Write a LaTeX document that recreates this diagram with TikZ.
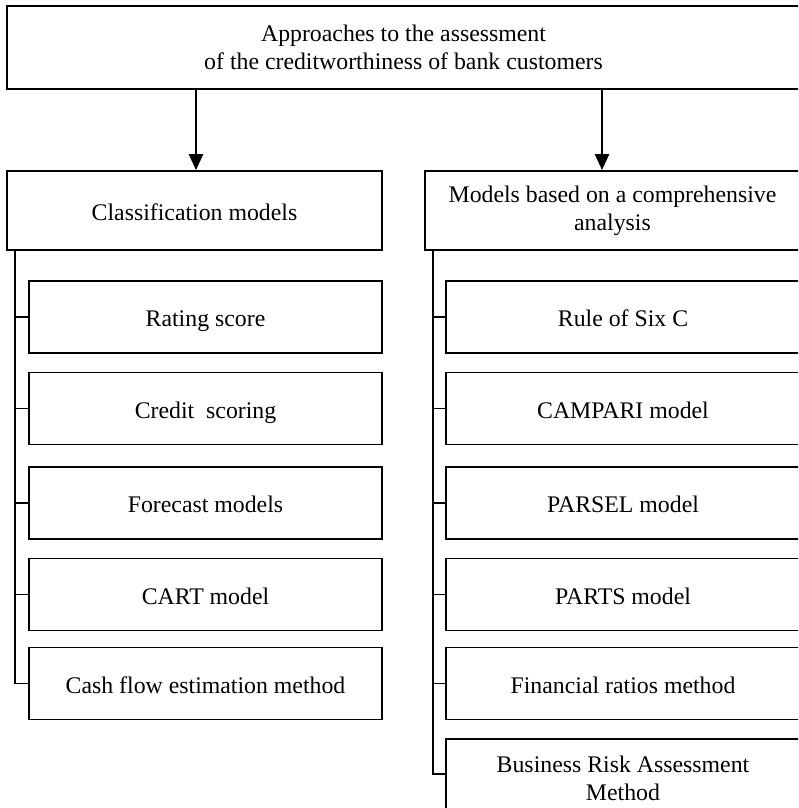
\documentclass[tikz,border=0pt]{standalone}
\usepackage{fontspec}
\setmainfont{Liberation Serif}
\usetikzlibrary{arrows.meta}
\begin{document}
\begin{tikzpicture}[x=0.5pt,y=-0.5pt,
  font=\fontsize{11.9}{14}\selectfont,
  box/.style={draw,line width=0.9pt,rectangle,inner sep=0pt,align=center},
  oneline/.style={text height=9.5pt,text depth=0pt},
  arr/.style={line width=1.3pt,-{Triangle[length=8pt,width=7pt]}},
  link/.style={line width=0.9pt}]
\useasboundingbox (0,0) rectangle (798,808);
\clip (0,0) rectangle (798,808);
% main heading
\node[box,minimum width=396.5pt,minimum height=41.5pt] (top) at (403.5,47.5)
  {Approaches to the assessment\\of the creditworthiness of bank customers};
% two groups
\node[box,oneline,minimum width=187.5pt,minimum height=39.5pt] (lm) at (194.5,210.5)
  {Classification models};
\node[box,minimum width=187.5pt,minimum height=39.5pt] (rm) at (612.5,210.5)
  {\rule{0pt}{0pt}\raisebox{-1pt}{Models based on a comprehensive}\\\raisebox{-1pt}{analysis}};
% left column
\tikzset{lbox/.style={box,oneline,minimum width=176.5pt,minimum height=36pt},
         rbox/.style={box,oneline,minimum width=177pt,minimum height=36pt}}
\node[lbox] (l1) at (205.5,317) {Rating score};
\node[lbox] (l2) at (205.5,408.5) {Credit~ scoring};
\node[lbox] (l3) at (205.5,503) {Forecast models};
\node[lbox] (l4) at (205.5,594.5) {CART model};
\node[lbox] (l5) at (205.5,683.5) {Cash flow estimation method};
% right column
\node[rbox] (r1) at (623,317) {Rule of Six C};
\node[rbox] (r2) at (623,408.5) {CAMPARI model};
\node[rbox] (r3) at (623,503) {PARSEL model};
\node[rbox] (r4) at (623,594.5) {PARTS model};
\node[rbox] (r5) at (623,683.5) {Financial ratios method};
\node[box,minimum width=177pt,minimum height=39pt] (r6) at (623,778) {Business Risk Assessment\\Method};
% arrows from the heading
\coordinate (la) at (196,0);
\coordinate (ra) at (602,0);
\draw[arr] (top.south -| la) -- (lm.north -| la);
\draw[arr] (top.south -| ra) -- (rm.north -| ra);
% bus lines
\coordinate (lb) at (15,0);
\coordinate (rb) at (433,0);
\draw[link] (lm.south -| lb) -- (l5.west -| lb) -- (l5.west);
\foreach \n in {l1,l2,l3,l4} \draw[link] (\n.west -| lb) -- (\n.west);
\draw[link] (rm.south -| rb) -- ([yshift=2pt]r6.west -| rb) -- ([yshift=2pt]r6.west);
\foreach \n in {r1,r2,r3,r4,r5} \draw[link] (\n.west -| rb) -- (\n.west);
\end{tikzpicture}
\end{document}
